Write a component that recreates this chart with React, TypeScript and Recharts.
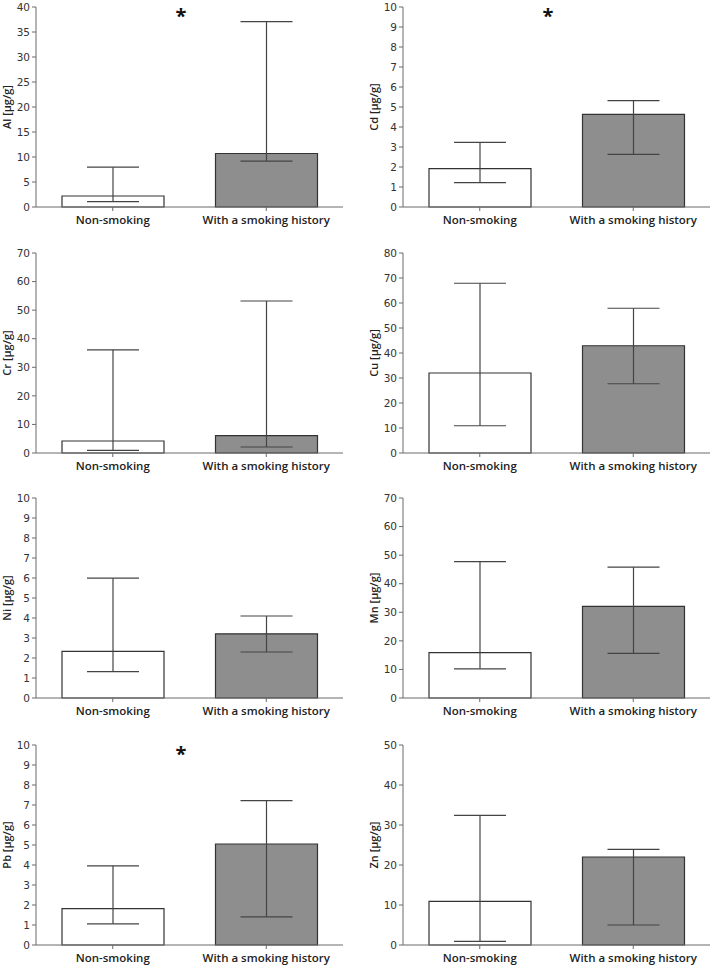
import { BarChart, Bar, XAxis, YAxis, Cell, ErrorBar } from 'recharts'

const GROUPS = ['Non-smoking', 'With a smoking history']
const ELEMENTS = ['Al', 'Cd', 'Cr', 'Cu', 'Ni', 'Mn', 'Pb', 'Zn']

// median with lower / upper whisker
const NON_SMOKING = [2.2, 1.92, 4.2, 32, 2.33, 15.9, 1.82, 10.9]
const NON_SMOKING_LOW = [1.07, 1.22, 0.94, 10.9, 1.32, 10.2, 1.06, 0.92]
const NON_SMOKING_HIGH = [7.97, 3.23, 36.1, 67.9, 5.99, 47.7, 3.96, 32.4]
const SMOKING = [10.7, 4.63, 6.1, 42.9, 3.21, 32.1, 5.05, 22.0]
const SMOKING_LOW = [9.17, 2.63, 2.1, 27.7, 2.3, 15.6, 1.41, 5.0]
const SMOKING_HIGH = [37.06, 5.32, 53.2, 57.9, 4.1, 45.8, 7.22, 23.9]

const Y_MAX = [40, 10, 70, 80, 10, 70, 10, 50]
const Y_STEP = [5, 1, 10, 10, 1, 10, 1, 10]
const SIGNIFICANT = ['Al', 'Cd', 'Pb']

const ROW_TOPS = [0, 246, 491, 738]
const BAR_FILLS = ['#ffffff', '#8e8e8e']
const FRAME = '#6a6a6a'
const FONT = '"Open Sans", sans-serif'
const TICK_FONT = '"DejaVu Sans", sans-serif'

function Panel({ index }: { index: number }) {
  const col = index % 2
  const row = Math.floor(index / 2)
  const el = ELEMENTS[index]

  const data = GROUPS.map((group, i) => {
    const value = i === 0 ? NON_SMOKING[index] : SMOKING[index]
    const low = i === 0 ? NON_SMOKING_LOW[index] : SMOKING_LOW[index]
    const high = i === 0 ? NON_SMOKING_HIGH[index] : SMOKING_HIGH[index]
    return { group, value, err: [value - low, high - value] }
  })

  const ticks: number[] = []
  for (let t = 0; t <= Y_MAX[index] + 1e-9; t += Y_STEP[index]) ticks.push(Math.round(t * 10) / 10)

  const left = col === 0 ? 0 : 356
  const width = col === 0 ? 348 : 356
  const axisW = col === 0 ? 36 : 47
  const marginRight = col === 0 ? 5 : 2
  const top = ROW_TOPS[row]

  const yLabel = (props: any) => {
    const vb = props.viewBox
    const cx = vb.x + vb.width - 30
    const cy = vb.y + vb.height / 2
    return (
      <text
        x={cx}
        y={cy}
        transform={`rotate(-90 ${cx} ${cy})`}
        textAnchor="middle"
        dominantBaseline="central"
        fontFamily={FONT}
        fontSize={11}
        fontWeight={600}
        fill="#222"
      >
        {el} [µg/g]
      </text>
    )
  }

  return (
    <div style={{ position: 'absolute', left, top, width, height: 237 }}>
      <BarChart
        width={width}
        height={237}
        data={data}
        margin={{ top: 7, right: marginRight, left: 0, bottom: 0 }}
        barSize={102}
      >
        <XAxis
          dataKey="group"
          height={30}
          tickSize={4}
          tickMargin={5}
          axisLine={{ stroke: FRAME }}
          tickLine={{ stroke: FRAME }}
          tick={{ fontFamily: FONT, fontSize: 11.5, fontWeight: 600, fill: '#222' }}
          interval={0}
        />
        <XAxis
          xAxisId="top"
          orientation="top"
          dataKey="group"
          height={0}
          tick={false}
          tickLine={false}
          axisLine={{ stroke: FRAME }}
        />
        <YAxis
          width={axisW}
          domain={[0, Y_MAX[index]]}
          ticks={ticks}
          interval={0}
          tickSize={4}
          tickMargin={2}
          axisLine={{ stroke: FRAME }}
          tickLine={{ stroke: FRAME }}
          tick={{ fontFamily: TICK_FONT, fontSize: 10.5, fill: '#333' }}
          label={{ content: yLabel }}
        />
        <YAxis
          yAxisId="right"
          orientation="right"
          width={0}
          tick={false}
          tickLine={false}
          axisLine={{ stroke: FRAME }}
        />
        <Bar dataKey="value" stroke="#333" strokeWidth={1.2} isAnimationActive={false}>
          {data.map((d, i) => (
            <Cell key={d.group} fill={BAR_FILLS[i]} />
          ))}
          <ErrorBar
            dataKey="err"
            width={26}
            stroke="#444"
            strokeWidth={1.2}
            direction="y"
            isAnimationActive={false}
          />
        </Bar>
      </BarChart>
      {SIGNIFICANT.includes(el) && (
        <div
          style={{
            position: 'absolute',
            left: axisW + 145,
            top: 7,
            transform: 'translate(-50%, -1px)',
            fontFamily: FONT,
            fontSize: 20,
            fontWeight: 700,
            lineHeight: '20px',
            color: '#111',
          }}
        >
          *
        </div>
      )}
    </div>
  )
}

export default function App() {
  return (
    <div
      style={{
        position: 'absolute',
        left: 0,
        top: 0,
        width: 712,
        height: 966,
        background: '#fff',
        overflow: 'hidden',
      }}
    >
      {ELEMENTS.map((el, i) => (
        <Panel key={el} index={i} />
      ))}
    </div>
  )
}
